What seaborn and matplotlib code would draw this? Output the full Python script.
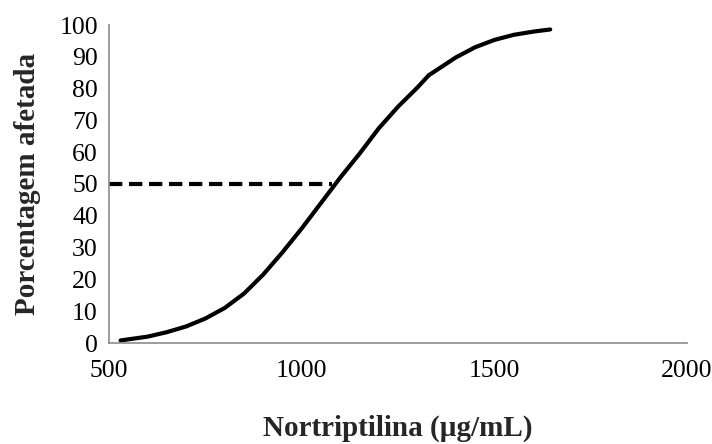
import matplotlib
matplotlib.use("Agg")
import matplotlib.pyplot as plt
import seaborn as sns
import pandas as pd

# Data
concentration = [530, 600, 650, 700, 750, 800, 850, 900, 950, 1000, 1050, 1100,
                 1150, 1200, 1250, 1300, 1330, 1400, 1450, 1500, 1550, 1600, 1645]
affected = [0.8, 2.0, 3.4, 5.2, 7.7, 11.0, 15.5, 21.5, 28.5, 36.0, 44.0, 52.0,
            59.5, 67.5, 74.3, 80.3, 84.2, 89.8, 93.0, 95.3, 96.9, 97.9, 98.6]
ref_x = [500, 1080]
ref_y = [50, 50]
x_ticks = [500, 1000, 1500, 2000]
y_ticks = [0, 10, 20, 30, 40, 50, 60, 70, 80, 90, 100]

sns.set_style("white")
plt.rcParams['font.family'] = ['Liberation Serif', 'DejaVu Serif']

fig = plt.figure(figsize=(7.12, 4.44), dpi=100)
ax = fig.add_axes([109/712, 1 - 343/444, (687 - 109)/712, (343 - 25)/444])

curve = pd.DataFrame({"x": concentration, "y": affected})
ref = pd.DataFrame({"x": ref_x, "y": ref_y})
sns.lineplot(data=ref, x="x", y="y", ax=ax, color="black", linewidth=3.0,
             linestyle=(0, (3.2, 1.6)))
sns.lineplot(data=curve, x="x", y="y", ax=ax, color="black", linewidth=3.0)

ax.set_xlim(500, 2000)
ax.set_ylim(0, 100)
ax.set_xticks(x_ticks)
ax.set_yticks(y_ticks)
ax.set_xticklabels([str(t) for t in x_ticks])
ax.set_yticklabels([str(t) for t in y_ticks])

for s in ["top", "right"]:
    ax.spines[s].set_visible(False)
for s in ["left", "bottom"]:
    ax.spines[s].set_color("#8c8c8c")
    ax.spines[s].set_linewidth(1.2)

ax.tick_params(axis="both", which="major", direction="out", length=6,
               width=1.2, color="#8c8c8c", labelsize=18.5, labelcolor="black")
ax.tick_params(axis="x", pad=6)
ax.tick_params(axis="y", pad=2)

ax.set_xlabel("Nortriptilina (µg/mL)", fontsize=21, fontweight="bold")
ax.set_ylabel("Porcentagem afetada", fontsize=21, fontweight="bold")
ax.xaxis.set_label_coords(0.5, -0.268, transform=ax.transAxes)
ax.xaxis.label.set_va("center")
ax.yaxis.set_label_coords((27 - 109) / 578, 0.5, transform=ax.transAxes)
ax.yaxis.label.set_va("center")

fig.savefig("out.png", dpi=100)
